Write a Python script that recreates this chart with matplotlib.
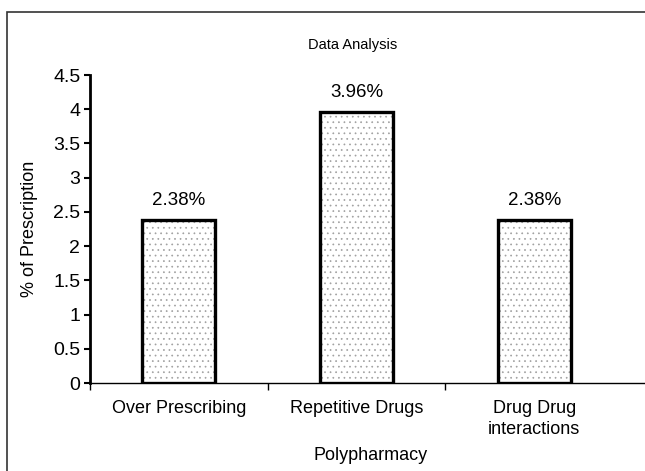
import matplotlib
matplotlib.use('Agg')
import matplotlib.pyplot as plt
from matplotlib.patches import Rectangle

categories = ['Over Prescribing', 'Repetitive Drugs', 'Drug Drug\ninteractions']
values = [2.38, 3.96, 2.38]
value_labels = ['2.38%', '3.96%', '2.38%']
y_ticks = [0, 0.5, 1, 1.5, 2, 2.5, 3, 3.5, 4, 4.5]

plt.rcParams['font.family'] = ['Liberation Sans', 'DejaVu Sans']
plt.rcParams['hatch.linewidth'] = 0.5

fig = plt.figure(figsize=(6.45, 4.71), dpi=100)
# outer chart frame (cut off on the right and bottom)
fig.patches.append(Rectangle((7 / 645, -0.1), 1.0, 1.1 - 12 / 471, transform=fig.transFigure,
                             fill=False, edgecolor='#333333', linewidth=1.2))

ax = fig.add_axes([90 / 645, 88 / 471, 1 - 90 / 645 + 0.01, 308 / 471])
x = list(range(len(categories)))
ax.bar(x, values, width=0.41, color='white', edgecolor='#a0a0a0', hatch='...', linewidth=0)
ax.bar(x, values, width=0.41, fill=False, edgecolor='black', linewidth=2.4)

for xi, v, lab in zip(x, values, value_labels):
    ax.text(xi, v + 0.16, lab, ha='center', va='bottom', fontsize=13.5)

ax.set_xlim(-0.5, 2.66)
ax.set_ylim(0, 4.5)
ax.set_yticks(y_ticks)
ax.set_yticklabels([f'{t:g}' for t in y_ticks], fontsize=14)
ax.set_xticks([-0.5, 0.5, 1.5])
ax.set_xticklabels([])
ax.set_xticks(x, minor=True)
ax.set_xticklabels(categories, minor=True, fontsize=13, linespacing=1.35)
ax.tick_params(axis='x', which='minor', length=0, pad=12)
ax.tick_params(axis='x', which='major', length=5, width=1)
ax.tick_params(axis='y', length=4, width=1.5, pad=3)

for s in ['top', 'right']:
    ax.spines[s].set_visible(False)
ax.spines['left'].set_linewidth(2)
ax.spines['bottom'].set_linewidth(1)

ax.set_ylabel('% of Prescription', fontsize=13, labelpad=11)
ax.set_xlabel('Polypharmacy', fontsize=13, labelpad=6)
fig.text(353 / 645, 1 - 45 / 471, 'Data Analysis', ha='center', va='center', fontsize=10.5)

fig.savefig('out.png', dpi=100)
